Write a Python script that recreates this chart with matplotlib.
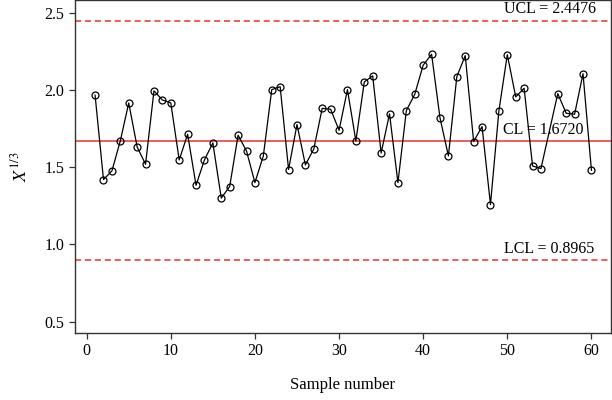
import numpy as np
import matplotlib
matplotlib.use("Agg")
import matplotlib.pyplot as plt

plt.rcParams["font.family"] = ["Liberation Serif", "DejaVu Serif"]
plt.rcParams["mathtext.fontset"] = "stix"

# ── data (sample 55 has no marker in the reference) ──────────────────────────
sample_no = [1, 2, 3, 4, 5, 6, 7, 8, 9, 10,
             11, 12, 13, 14, 15, 16, 17, 18, 19, 20,
             21, 22, 23, 24, 25, 26, 27, 28, 29, 30,
             31, 32, 33, 34, 35, 36, 37, 38, 39, 40,
             41, 42, 43, 44, 45, 46, 47, 48, 49, 50,
             51, 52, 53, 54, 56, 57, 58, 59, 60]
x_cuberoot = [1.966, 1.420, 1.476, 1.670, 1.916, 1.631, 1.519, 1.994, 1.935, 1.916,
              1.547, 1.713, 1.383, 1.547, 1.657, 1.300, 1.375, 1.707, 1.605, 1.400,
              1.573, 2.002, 2.021, 1.485, 1.776, 1.515, 1.618, 1.881, 1.875, 1.739,
              2.002, 1.670, 2.052, 2.091, 1.592, 1.845, 1.400, 1.866, 1.972, 2.160,
              2.231, 1.819, 1.573, 2.086, 2.222, 1.666, 1.763, 1.258, 1.864, 2.228,
              1.955, 2.011, 1.508, 1.491, 1.976, 1.849, 1.843, 2.105, 1.480]

UCL = 2.4476
CL = 1.6720
LCL = 0.8965

red = "#e8312f"

fig = plt.figure(figsize=(6.12, 4.0), dpi=100)
ax = fig.add_axes([0.1225, 0.1675, 0.8755, 0.8325])

ax.axhline(UCL, color=red, linestyle=(0, (4, 2.5)), lw=1.1)
ax.axhline(CL, color=red, linestyle="-", lw=1.1)
ax.axhline(LCL, color=red, linestyle=(0, (4, 2.5)), lw=1.1)

ax.plot(sample_no, x_cuberoot, color="black", lw=0.9, marker="o",
        markersize=5, markerfacecolor="none", markeredgecolor="black",
        markeredgewidth=0.9)

ax.text(60.5, UCL + 0.025, f"UCL = {UCL:.4f}", ha="right", va="bottom", fontsize=11.5)
ax.text(59.0, CL + 0.02, f"CL = {CL:.4f}", ha="right", va="bottom", fontsize=11.5)
ax.text(60.3, LCL + 0.02, f"LCL = {LCL:.4f}", ha="right", va="bottom", fontsize=11.5)

ax.set_xlim(-1.39, 62.3)
ax.set_ylim(0.427, 2.582)
ax.set_xticks([0, 10, 20, 30, 40, 50, 60])
ax.set_yticks([0.5, 1.0, 1.5, 2.0, 2.5])
ax.set_yticklabels(["0.5", "1.0", "1.5", "2.0", "2.5"])
ax.tick_params(direction="out", length=4, width=0.9, labelsize=11.5, color="#333333")
for s in ax.spines.values():
    s.set_color("#333333")
    s.set_linewidth(1.0)

ax.set_xlabel("Sample number", fontsize=12, labelpad=13)
ax.set_ylabel(r"$X^{1/3}$", fontsize=13, labelpad=10)

fig.savefig("out.png", dpi=100)
